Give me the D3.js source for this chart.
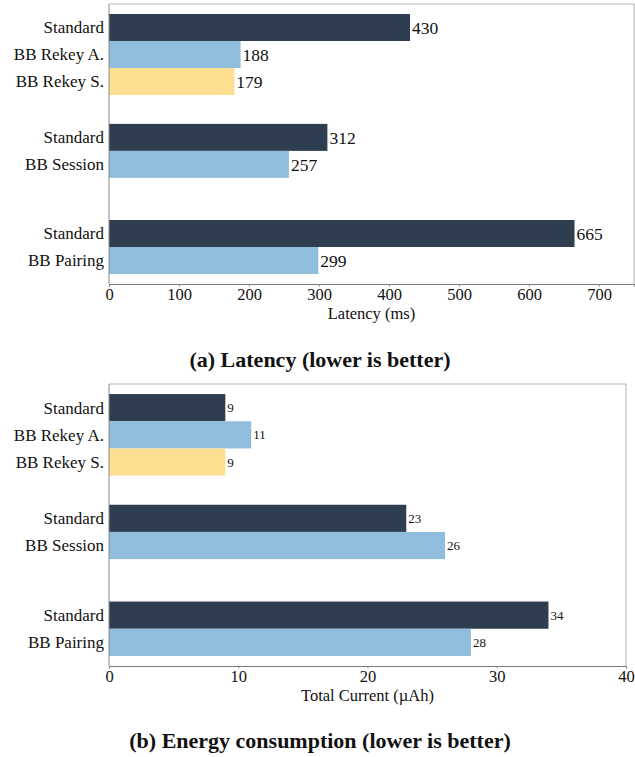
<!DOCTYPE html>
<html>
<head>
<meta charset="utf-8">
<script src="https://cdn.jsdelivr.net/npm/d3@7/dist/d3.min.js"></script>
<style>
  body { margin: 0; background: #fff; }
  svg { display: block; font-family: "Liberation Serif", "DejaVu Serif", serif; }
</style>
</head>
<body>
<div id="chart"></div>
<script>
// bars, top to bottom (same order in both panels)
var barLabels = ["Standard", "BB Rekey A.", "BB Rekey S.", "Standard", "BB Session", "Standard", "BB Pairing"];
var barGroups = [0, 0, 0, 1, 1, 2, 2];
var barSeries = ["standard", "rekeyA", "rekeyS", "standard", "bb", "standard", "bb"];

var latencyValues = [430, 188, 179, 312, 257, 665, 299];
var energyValues = [9, 11, 9, 23, 26, 34, 28];

var latencyTicks = [0, 100, 200, 300, 400, 500, 600, 700];
var energyTicks = [0, 10, 20, 30, 40];

var colors = {standard: "#2e3d50", rekeyA: "#90bddb", rekeyS: "#fedf91", bb: "#90bddb"};

var W = 635, H = 757;
var svg = d3.select("#chart").append("svg")
    .attr("width", W)
    .attr("height", H);

// vertical slots: pad, bars, gaps between groups (in bar heights)
var pad = 0.37, groupGap = [1.07, 1.56];
var slotStart = [];
var u = pad;
for (var i = 0; i < barLabels.length; i++) {
    if (i > 0 && barGroups[i] != barGroups[i-1]) u += groupGap[barGroups[i-1]];
    slotStart.push(u);
    u += 1;
}
var totalUnits = u + pad;

function drawPanel(opts) {
    var g = svg.append("g");
    var x = d3.scaleLinear().domain(opts.domain).range([opts.left, opts.right]);
    var y = d3.scaleLinear().domain([0, totalUnits]).range([opts.top, opts.bottom]);

    // frame: top/right lighter
    g.append("line").attr("x1", opts.left).attr("x2", opts.right).attr("y1", opts.top).attr("y2", opts.top)
        .attr("stroke", "#b5b5b5").attr("stroke-width", 1);
    g.append("line").attr("x1", opts.right).attr("x2", opts.right).attr("y1", opts.top).attr("y2", opts.bottom)
        .attr("stroke", "#b5b5b5").attr("stroke-width", 1);

    g.selectAll("rect.bar")
        .data(opts.values)
        .enter()
        .append("rect")
        .attr("class", "bar")
        .attr("x", x(0))
        .attr("y", (d, i) => y(slotStart[i]))
        .attr("width", d => x(d) - x(0))
        .attr("height", (d, i) => y(slotStart[i] + 1) - y(slotStart[i]))
        .style("fill", (d, i) => colors[barSeries[i]]);

    g.selectAll("text.val")
        .data(opts.values)
        .enter()
        .append("text")
        .attr("class", "val")
        .attr("x", d => x(d) + 2)
        .attr("y", (d, i) => y(slotStart[i] + 0.5))
        .attr("dy", "0.35em")
        .style("font-size", opts.valSize + "px")
        .style("fill", "#111")
        .text(d => d);

    g.selectAll("text.cat")
        .data(barLabels)
        .enter()
        .append("text")
        .attr("class", "cat")
        .attr("x", opts.left - 5)
        .attr("y", (d, i) => y(slotStart[i] + 0.5))
        .attr("dy", "0.35em")
        .attr("text-anchor", "end")
        .style("font-size", "17px")
        .style("fill", "#111")
        .text(d => d);

    var xAxis = g.append("g")
        .attr("transform", "translate(0," + opts.bottom + ")")
        .call(d3.axisBottom(x).tickValues(opts.ticks).tickSize(2.5).tickPadding(2).tickFormat(d3.format("d")));
    xAxis.select(".domain").attr("stroke", "#7a7a7a");
    xAxis.selectAll(".tick line").attr("stroke", "#8a8a8a");
    xAxis.selectAll(".tick text")
        .style("font-family", "'Liberation Serif', serif")
        .style("font-size", "16.5px")
        .style("fill", "#111");

    g.append("line").attr("x1", opts.left).attr("x2", opts.left).attr("y1", opts.top).attr("y2", opts.bottom)
        .attr("stroke", "#8a8a8a").attr("stroke-width", 1);

    g.append("text")
        .attr("x", (opts.left + opts.right) / 2)
        .attr("y", opts.bottom + 35)
        .attr("text-anchor", "middle")
        .style("font-size", "16.5px")
        .style("fill", "#111")
        .text(opts.xTitle);

    g.append("text")
        .attr("x", 320)
        .attr("y", opts.captionY)
        .attr("text-anchor", "middle")
        .style("font-size", "22px")
        .style("font-weight", "bold")
        .style("fill", "#111")
        .text(opts.caption);
}

drawPanel({
    values: latencyValues, domain: [0, 750], ticks: latencyTicks,
    left: 109, right: 634, top: 4, bottom: 284, valSize: 17.5,
    xTitle: "Latency (ms)", caption: "(a) Latency (lower is better)", captionY: 367
});

drawPanel({
    values: energyValues, domain: [0, 40], ticks: energyTicks,
    left: 109, right: 626, top: 384, bottom: 666, valSize: 13,
    xTitle: "Total Current (µAh)", caption: "(b) Energy consumption (lower is better)", captionY: 748
});
</script>
</body>
</html>
